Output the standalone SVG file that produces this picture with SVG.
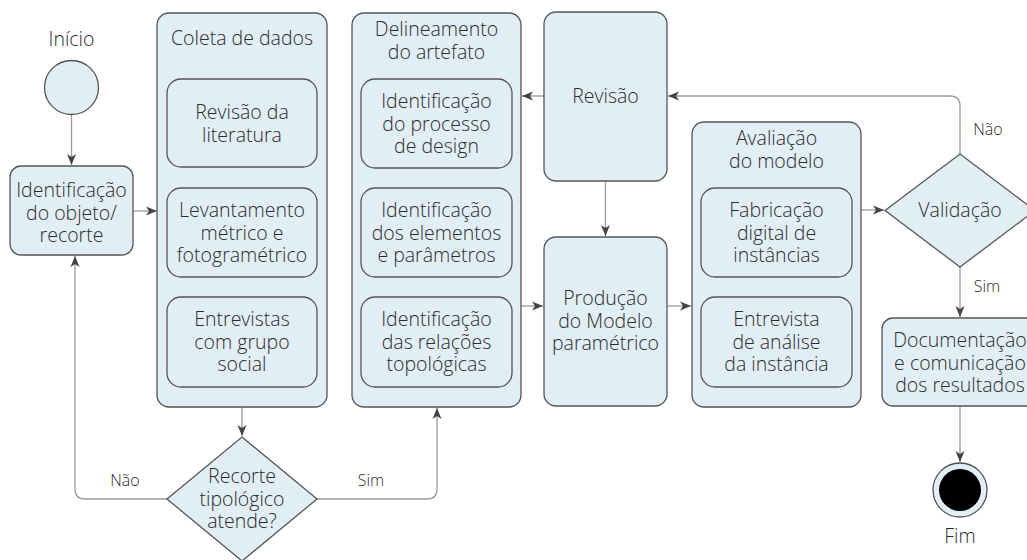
<svg xmlns="http://www.w3.org/2000/svg" width="1027" height="560" viewBox="0 0 1027 560">
<defs>
<style>
.box{fill:#e2eef6;stroke:#555;stroke-width:1.3}
.t{font-family:"Open Sans","Noto Sans",sans-serif;font-size:19.5px;font-weight:300;fill:#2b2b2b;text-anchor:middle}
.lbl{font-family:"Open Sans","Noto Sans",sans-serif;font-size:16px;font-weight:300;fill:#2b2b2b;text-anchor:middle}
.c{fill:none;stroke:#9a9a9a;stroke-width:1.3}
</style>
<marker id="ah" markerWidth="12" markerHeight="10" refX="11" refY="5" orient="auto" markerUnits="userSpaceOnUse">
<path d="M0,0.5 L11,5 L0,9.5 L3,5 Z" fill="#444"/>
</marker>
</defs>
<rect width="1027" height="560" fill="#fff"/>

<g id="connectors">
<path class="c" d="M71.5,114 V165" marker-end="url(#ah)"/>
<path class="c" d="M133,211 H157" marker-end="url(#ah)"/>
<path class="c" d="M242,407 V436" marker-end="url(#ah)"/>
<path class="c" d="M167,499 H85 Q75,499 75,489 V256" marker-end="url(#ah)"/>
<path class="c" d="M317,499 H427 Q437,499 437,489 V408" marker-end="url(#ah)"/>
<path class="c" d="M544,96 H522" marker-end="url(#ah)"/>
<path class="c" d="M605.5,181 V236" marker-end="url(#ah)"/>
<path class="c" d="M521,306 H543" marker-end="url(#ah)"/>
<path class="c" d="M667,306 H691" marker-end="url(#ah)"/>
<path class="c" d="M861,210 H884" marker-end="url(#ah)"/>
<path class="c" d="M960,154 V106 Q960,96 950,96 H668" marker-end="url(#ah)"/>
<path class="c" d="M960,267 V317" marker-end="url(#ah)"/>
<path class="c" d="M960,406 V462" marker-end="url(#ah)"/>
<text class="lbl" x="125" y="486">Não</text>
<text class="lbl" x="371" y="486">Sim</text>
<text class="lbl" x="988" y="135">Não</text>
<text class="lbl" x="987" y="292">Sim</text>
</g>

<g id="inicio">
<text class="t" x="71.5" y="46">Início</text>
<circle class="box" cx="71.5" cy="87.5" r="27"/>
</g>

<g id="identificacao">
<rect class="box" x="10" y="166" width="123" height="89" rx="11"/>
<text class="t" x="71.5" y="197">Identificação</text>
<text class="t" x="71.5" y="219.5">do objeto/</text>
<text class="t" x="71.5" y="242">recorte</text>
</g>

<g id="coleta">
<rect class="box" x="157" y="13" width="170" height="394" rx="12"/>
<text class="t" x="242" y="45">Coleta de dados</text>
<rect class="box" x="167" y="79" width="150" height="88" rx="14"/>
<text class="t" x="242" y="119">Revisão da</text>
<text class="t" x="242" y="141.5">literatura</text>
<rect class="box" x="167" y="188" width="150" height="89" rx="14"/>
<text class="t" x="242" y="217">Levantamento</text>
<text class="t" x="242" y="239.5">métrico e</text>
<text class="t" x="242" y="262">fotogramétrico</text>
<rect class="box" x="167" y="297" width="150" height="90" rx="14"/>
<text class="t" x="242" y="326">Entrevistas</text>
<text class="t" x="242" y="348.5">com grupo</text>
<text class="t" x="242" y="371">social</text>
</g>

<g id="recorte">
<polygon class="box" points="242,437 317,499 242,561 167,499"/>
<text class="t" x="242" y="483">Recorte</text>
<text class="t" x="242" y="505.5">tipológico</text>
<text class="t" x="242" y="528">atende?</text>
</g>

<g id="delineamento">
<rect class="box" x="352" y="13" width="169" height="394" rx="12"/>
<text class="t" x="436.5" y="36">Delineamento</text>
<text class="t" x="436.5" y="58.5">do artefato</text>
<rect class="box" x="361" y="79" width="151" height="89" rx="14"/>
<text class="t" x="436.5" y="108">Identificação</text>
<text class="t" x="436.5" y="130.5">do processo</text>
<text class="t" x="436.5" y="153">de design</text>
<rect class="box" x="361" y="188" width="151" height="89" rx="14"/>
<text class="t" x="436.5" y="217">Identificação</text>
<text class="t" x="436.5" y="239.5">dos elementos</text>
<text class="t" x="436.5" y="262">e parâmetros</text>
<rect class="box" x="361" y="297" width="151" height="90" rx="14"/>
<text class="t" x="436.5" y="326">Identificação</text>
<text class="t" x="436.5" y="348.5">das relações</text>
<text class="t" x="436.5" y="371">topológicas</text>
</g>

<g id="revisao">
<rect class="box" x="544" y="12" width="123" height="169" rx="12"/>
<text class="t" x="605.5" y="103">Revisão</text>
</g>

<g id="producao">
<rect class="box" x="544" y="237" width="123" height="169" rx="12"/>
<text class="t" x="605.5" y="305">Produção</text>
<text class="t" x="605.5" y="327.5">do Modelo</text>
<text class="t" x="605.5" y="350">paramétrico</text>
</g>

<g id="avaliacao">
<rect class="box" x="692" y="122" width="169" height="285" rx="12"/>
<text class="t" x="776.5" y="145">Avaliação</text>
<text class="t" x="776.5" y="167.5">do modelo</text>
<rect class="box" x="701" y="188" width="151" height="89" rx="14"/>
<text class="t" x="776.5" y="217">Fabricação</text>
<text class="t" x="776.5" y="239.5">digital de</text>
<text class="t" x="776.5" y="262">instâncias</text>
<rect class="box" x="701" y="297" width="151" height="90" rx="14"/>
<text class="t" x="776.5" y="326">Entrevista</text>
<text class="t" x="776.5" y="348.5">de análise</text>
<text class="t" x="776.5" y="371">da instância</text>
</g>

<g id="validacao">
<polygon class="box" points="960,154 1035,210.5 960,267 885,210.5"/>
<text class="t" x="960" y="217">Validação</text>
</g>

<g id="documentacao">
<rect class="box" x="882" y="318" width="156" height="88" rx="11"/>
<text class="t" x="960" y="347">Documentação</text>
<text class="t" x="960" y="369.5">e comunicação</text>
<text class="t" x="960" y="392">dos resultados</text>
</g>

<g id="fim">
<circle class="box" cx="960" cy="490" r="27"/>
<circle cx="960" cy="490" r="21" fill="#000"/>
<text class="t" x="960" y="543">Fim</text>
</g>
</svg>
